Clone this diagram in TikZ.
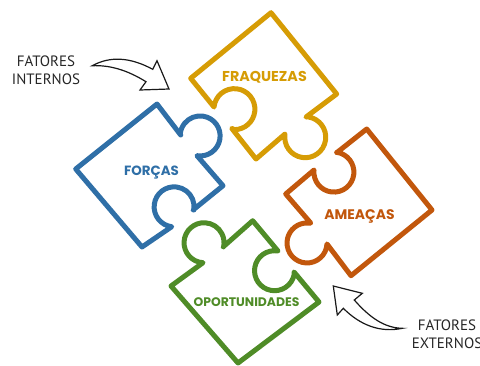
\documentclass[tikz,border=0pt]{standalone}
\usepackage{fontspec}
\newfontfamily\puzzlefont{Poppins}[UprightFont=*-Bold]
\newfontfamily\notefont{PT Sans}
\definecolor{cgold}{HTML}{D69C05}
\definecolor{cblue}{HTML}{2F6FA7}
\definecolor{corange}{HTML}{C2570C}
\definecolor{cgreen}{HTML}{4F8C27}
\tikzset{
  piece/.style={line width=5pt,line join=round,line cap=round,fill=white},
  plabel/.style={inner sep=0pt},
  note/.style={font=\notefont\fontsize{15}{18}\selectfont,align=center,inner sep=0pt,text=black!85},
  bigarrow/.style={draw=black!90,line width=1.2pt,fill=white,line join=miter}
}
\begin{document}
\begin{tikzpicture}[x=1pt,y=1pt,yscale=-1]
\useasboundingbox (0,0) rectangle (480,365);
\begin{scope}
\clip (0,0) rectangle (480,365);
% FRAQUEZAS
\draw[piece,draw=cgold] (271,12.7) -- (190.7,78.3) -- (214,107)
  arc[start angle=186,end angle=450,radius=20.5] -- (231.7,128.3)
  -- (256,159) -- (285,134)
  arc[start angle=189,end angle=-81,radius=20.5] -- (306,117)
  -- (336.7,94) -- cycle;
% FORCAS
\draw[piece,draw=cblue] (157,104) -- (75.7,169) -- (142,247) -- (171.7,226.7)
  arc[start angle=97,end angle=369,radius=20] -- (193,210)
  -- (223,185.7) -- (197,155.7)
  arc[start angle=99,end angle=-174,radius=20] -- (180.7,135) -- cycle;
% AMEACAS
\draw[piece,draw=corange] (366.7,129) -- (432,210) -- (351,275.7) -- (327,244)
  arc[start angle=3,end angle=262,radius=20] -- (310.7,223)
  -- (285.7,194) -- (314,170)
  arc[start angle=186,end angle=-82,radius=20] -- (336.7,152.7) -- cycle;
% OPORTUNIDADES
\draw[piece,draw=cgreen] (252.7,220.7) -- (278,251)
  arc[start angle=280,end angle=12,radius=20] -- (294,272)
  -- (319,302) -- (238,363) -- (171,286) -- (203,262.7)
  arc[start angle=93,end angle=372,radius=20] -- (223,247) -- cycle;
\node[plabel,text=cgold,font=\puzzlefont\fontsize{14.3}{15}\selectfont] (fraq) at (264.5,77) {FRAQUEZAS};
\node[plabel,text=cblue,font=\puzzlefont\fontsize{13.4}{15}\selectfont] (forc) at (151.5,173) {FORÇAS};
\node[plabel,text=corange,font=\puzzlefont\fontsize{13.9}{15}\selectfont] (amea) at (359.5,216) {AMEAÇAS};
\node[plabel,text=cgreen,font=\puzzlefont\fontsize{12.4}{15}\selectfont] (opor) at (246.5,302.5) {OPORTUNIDADES};
\node[note] (ni) at (46,70) {FATORES\\INTERNOS};
\node[note] (ne) at (447,334) {FATORES\\EXTERNOS};
% arrows
\draw[bigarrow] (92.3,65.7) .. controls (110,56) and (130,57) .. (152.7,69.3)
  -- (157,60.7) -- (169,89) -- (140,90) -- (146,81.7)
  .. controls (127,70) and (110,65) .. cycle;
\draw[bigarrow] (402.3,328.3) .. controls (385,328) and (370,318) .. (354.3,300)
  -- (362.3,293.3) -- (333.3,286) -- (337.3,315) -- (343.3,308.3)
  .. controls (360,325) and (380,333) .. cycle;
\end{scope}
\end{tikzpicture}
\end{document}
